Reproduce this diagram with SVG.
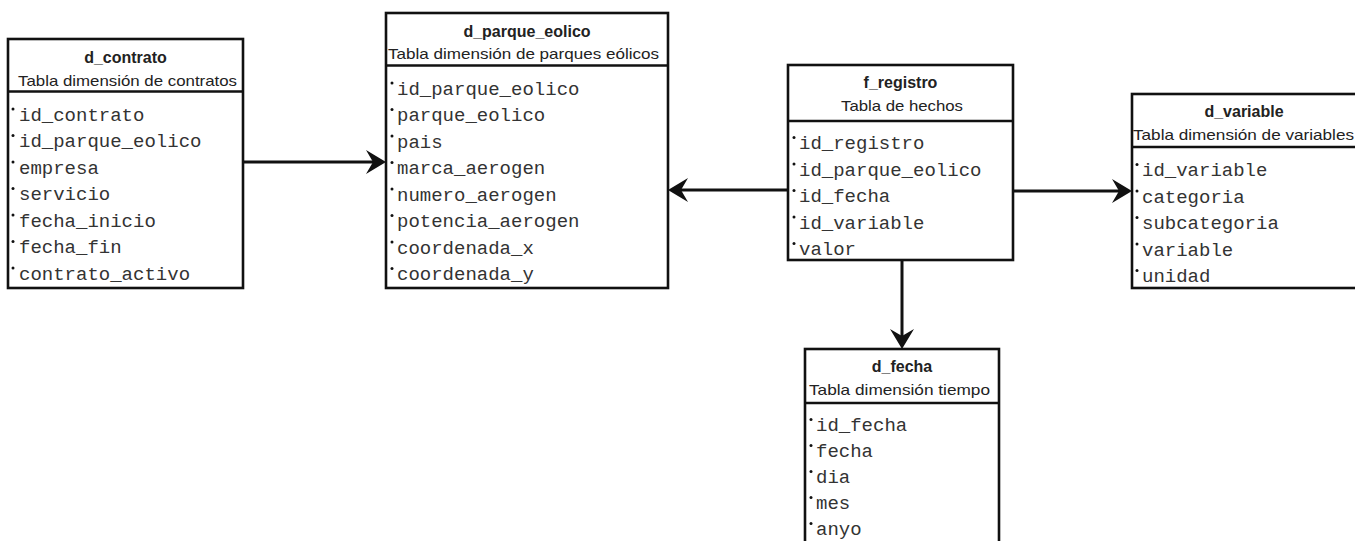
<svg xmlns="http://www.w3.org/2000/svg" width="1355" height="541" viewBox="0 0 1355 541">
  <style>
    .box { fill: #ffffff; stroke: #111111; stroke-width: 2.6; }
    .sep { stroke: #111111; stroke-width: 2.4; }
    .title { font-family: "Liberation Sans", Arial, sans-serif; font-weight: bold; font-size: 16px; fill: #222222; text-anchor: middle; }
    .sub { font-family: "Liberation Sans", Arial, sans-serif; font-size: 15px; fill: #222222; }
    .col { font-family: "Liberation Mono", "Courier New", monospace; font-size: 19px; fill: #333333; }
    .dot { fill: #111111; }
    .edge { stroke: #111111; stroke-width: 3; fill: none; }
    .head { fill: #111111; }
  </style>
  <defs>
    <!-- notched arrowhead, tip at origin, pointing along +x -->
    <path id="arrowhead" d="M0,0 L-20,-12 L-13,0 L-20,12 Z"/>
  </defs>
  <rect width="1355" height="541" fill="#ffffff"/>

  <!-- connectors -->
  <g id="connectors">
    <line class="edge" x1="243" y1="162" x2="374" y2="162"/>
    <use href="#arrowhead" class="head" transform="translate(386,162)"/>
    <line class="edge" x1="788" y1="190" x2="680" y2="190"/>
    <use href="#arrowhead" class="head" transform="translate(668,190) rotate(180)"/>
    <line class="edge" x1="1013" y1="191" x2="1120" y2="191"/>
    <use href="#arrowhead" class="head" transform="translate(1132,191)"/>
    <line class="edge" x1="902" y1="260" x2="902" y2="337"/>
    <use href="#arrowhead" class="head" transform="translate(902,349) rotate(90)"/>
  </g>

  <!-- d_contrato -->
  <g id="d_contrato">
    <rect class="box" x="8" y="39" width="235" height="249"/>
    <line class="sep" x1="8" y1="91.5" x2="243" y2="91.5"/>
    <text class="title" x="125.5" y="63">d_contrato</text>
    <text class="sub" x="18" y="86" textLength="219" lengthAdjust="spacingAndGlyphs">Tabla dimensión de contratos</text>
    <g class="col">
      <text x="19" y="120.5">id_contrato</text>
      <text x="19" y="147">id_parque_eolico</text>
      <text x="19" y="173.5">empresa</text>
      <text x="19" y="200">servicio</text>
      <text x="19" y="226.5">fecha_inicio</text>
      <text x="19" y="253">fecha_fin</text>
      <text x="19" y="279.5">contrato_activo</text>
    </g>
    <g class="dot">
      <circle cx="13" cy="109" r="1.5"/><circle cx="13" cy="135.5" r="1.5"/><circle cx="13" cy="162" r="1.5"/>
      <circle cx="13" cy="188.5" r="1.5"/><circle cx="13" cy="215" r="1.5"/><circle cx="13" cy="241.5" r="1.5"/>
      <circle cx="13" cy="268" r="1.5"/>
    </g>
  </g>

  <!-- d_parque_eolico -->
  <g id="d_parque_eolico">
    <rect class="box" x="386" y="13" width="282" height="275"/>
    <line class="sep" x1="386" y1="65.5" x2="668" y2="65.5"/>
    <text class="title" x="527" y="37">d_parque_eolico</text>
    <text class="sub" x="388" y="59" textLength="271" lengthAdjust="spacingAndGlyphs">Tabla dimensión de parques eólicos</text>
    <g class="col">
      <text x="397" y="94.5">id_parque_eolico</text>
      <text x="397" y="121">parque_eolico</text>
      <text x="397" y="147.5">pais</text>
      <text x="397" y="174">marca_aerogen</text>
      <text x="397" y="200.5">numero_aerogen</text>
      <text x="397" y="227">potencia_aerogen</text>
      <text x="397" y="253.5">coordenada_x</text>
      <text x="397" y="280">coordenada_y</text>
    </g>
    <g class="dot">
      <circle cx="392" cy="83" r="1.5"/><circle cx="392" cy="109.5" r="1.5"/><circle cx="392" cy="136" r="1.5"/>
      <circle cx="392" cy="162.5" r="1.5"/><circle cx="392" cy="189" r="1.5"/><circle cx="392" cy="215.5" r="1.5"/>
      <circle cx="392" cy="242" r="1.5"/><circle cx="392" cy="268.5" r="1.5"/>
    </g>
  </g>

  <!-- f_registro -->
  <g id="f_registro">
    <rect class="box" x="788" y="65" width="225" height="195"/>
    <line class="sep" x1="788" y1="121" x2="1013" y2="121"/>
    <text class="title" x="900.5" y="88">f_registro</text>
    <text class="sub" x="841" y="111" textLength="122" lengthAdjust="spacingAndGlyphs">Tabla de hechos</text>
    <g class="col">
      <text x="799" y="149">id_registro</text>
      <text x="799" y="175.5">id_parque_eolico</text>
      <text x="799" y="202">id_fecha</text>
      <text x="799" y="228.5">id_variable</text>
      <text x="799" y="255">valor</text>
    </g>
    <g class="dot">
      <circle cx="794" cy="137.5" r="1.5"/><circle cx="794" cy="164" r="1.5"/><circle cx="794" cy="190.5" r="1.5"/>
      <circle cx="794" cy="217" r="1.5"/><circle cx="794" cy="243.5" r="1.5"/>
    </g>
  </g>

  <!-- d_variable -->
  <g id="d_variable">
    <rect class="box" x="1132" y="94" width="230" height="194"/>
    <line class="sep" x1="1132" y1="147" x2="1362" y2="147"/>
    <text class="title" x="1244" y="117">d_variable</text>
    <text class="sub" x="1133" y="140" textLength="221" lengthAdjust="spacingAndGlyphs">Tabla dimensión de variables</text>
    <g class="col">
      <text x="1142" y="176">id_variable</text>
      <text x="1142" y="202.5">categoria</text>
      <text x="1142" y="229">subcategoria</text>
      <text x="1142" y="255.5">variable</text>
      <text x="1142" y="282">unidad</text>
    </g>
    <g class="dot">
      <circle cx="1137" cy="164.5" r="1.5"/><circle cx="1137" cy="191" r="1.5"/><circle cx="1137" cy="217.5" r="1.5"/>
      <circle cx="1137" cy="244" r="1.5"/><circle cx="1137" cy="270.5" r="1.5"/>
    </g>
  </g>

  <!-- d_fecha -->
  <g id="d_fecha">
    <rect class="box" x="805" y="349" width="194" height="220"/>
    <line class="sep" x1="805" y1="403" x2="999" y2="403"/>
    <text class="title" x="902" y="372">d_fecha</text>
    <text class="sub" x="809" y="395" textLength="181" lengthAdjust="spacingAndGlyphs">Tabla dimensión tiempo</text>
    <g class="col">
      <text x="816" y="431">id_fecha</text>
      <text x="816" y="457">fecha</text>
      <text x="816" y="483">dia</text>
      <text x="816" y="509">mes</text>
      <text x="816" y="535">anyo</text>
    </g>
    <g class="dot">
      <circle cx="811" cy="419.5" r="1.5"/><circle cx="811" cy="445.5" r="1.5"/><circle cx="811" cy="471.5" r="1.5"/>
      <circle cx="811" cy="497.5" r="1.5"/><circle cx="811" cy="523.5" r="1.5"/>
    </g>
  </g>
</svg>
